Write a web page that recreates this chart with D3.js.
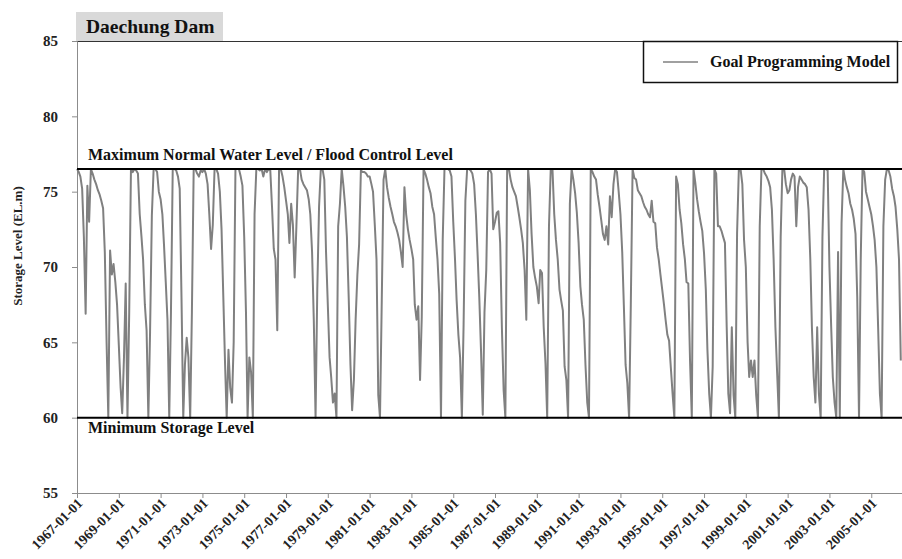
<!DOCTYPE html>
<html>
<head>
<meta charset="utf-8">
<script src="https://cdn.jsdelivr.net/npm/d3@7"></script>
<style>
  html, body { margin: 0; padding: 0; background: #fff; }
  svg { display: block; font-family: "Liberation Serif", "Times New Roman", serif; font-weight: bold; }
</style>
</head>
<body>
<div id="chart"></div>
<script>
// ---- data (monthly storage level, EL.m) ----
const startYear = 1967;

const level1967_1976 = [
  76.5, 76.3, 76, 75.2, 72, 66.9, 75.4, 73, 76.5, 76.2, 75.8, 75.5,
  75.1, 74.8, 74.4, 73.9, 71, 65, 60, 71.1, 69.5, 70.2, 69, 67.5,
  64.8, 62, 60.3, 64, 68.9, 60, 66.9, 76.5, 76.3, 76.5, 76.4, 76.2,
  73.5, 72, 70.5, 67.5, 65.8, 60, 65.7, 73.4, 76.5, 76.5, 76.3, 75,
  74.5, 73.5, 71.5, 69, 66.5, 60, 67, 76.5, 76.5, 76.4, 76, 75.2,
  68, 60, 63.5, 65.3, 64, 60, 67, 76.5, 76.5, 76.2, 76, 76.4,
  76.3, 76.5, 76.2, 75.5, 73.5, 71.2, 72.8, 76.5, 76.5, 76.2, 75, 72.5,
  68, 63.5, 60, 64.5, 62, 61, 65, 76.5, 76.5, 76.5, 76, 75.4,
  72, 67, 60, 64, 63, 60, 73.5, 76.5, 76.5, 76.4, 76.5, 76,
  76.5, 76.3, 76.5, 76.4, 74, 71.2, 70.5, 65.8, 76.5, 76.5, 76, 75.3
];

const level1977_1986 = [
  74.4, 73.5, 71.6, 74.2, 72.8, 69.3, 72.7, 76.5, 76.5, 75.8, 75.5, 75.3,
  75.1, 74.5, 73.5, 71, 66.5, 60, 68.5, 74, 76.5, 76.5, 75.8, 71,
  67.5, 64, 62.7, 61, 61.6, 60, 72.7, 74.2, 76.5, 75.4, 74, 72,
  68, 63.5, 60.5, 62.5, 66.5, 69.5, 71.5, 76.4, 76.3, 76.3, 76.2, 76,
  76, 75.5, 75, 72.8, 70.5, 61.5, 60, 67.8, 75.8, 76.5, 75.3, 74.6,
  74, 73.5, 73, 72.7, 72.3, 71.8, 71, 70, 75.3, 73.5, 72.5, 71.8,
  71.2, 70.5, 67.5, 66.5, 67.4, 62.5, 66.7, 76.5, 76.2, 75.8, 75.3, 74.9,
  74, 73.5, 72, 70.5, 68.2, 60, 71.8, 76.5, 76.5, 76.5, 76.4, 76,
  73, 70.5, 67.8, 65.5, 64, 60, 66.2, 74.4, 76.5, 76.5, 76.4, 76.2,
  75.5, 73.5, 71, 68, 64.5, 60.2, 67, 69.8, 76.3, 76.5, 76.2, 72.5
];

const level1987_1996 = [
  73, 73.6, 73.7, 71.6, 66, 61.8, 60, 76.5, 76.5, 75.8, 75.3, 75,
  74.7, 74, 73.3, 72.5, 71.6, 69.8, 66.5, 76.5, 75.1, 72.2, 70, 69.3,
  68.7, 67.6, 69.8, 69.6, 66, 63.6, 60, 72.7, 76.5, 76.5, 73.5, 71.8,
  70.5, 68.5, 67.8, 67.1, 63.4, 62.5, 60, 74.2, 76.5, 75.8, 74.9, 73.6,
  71.6, 68.7, 67.5, 66.5, 63.5, 61, 60, 76.5, 76.3, 76, 75.8, 74.8,
  74, 73.1, 72.2, 71.8, 72.7, 71.5, 74.7, 73.3, 75.5, 76.5, 76.3, 75,
  73.5, 71, 67.5, 63.5, 62.3, 60, 67.5, 76.5, 75.9, 75.8, 75.1, 74.9,
  74.7, 74.3, 74, 73.8, 73.5, 73.3, 74.4, 73, 72.9, 71.3, 70.5, 69.5,
  68.5, 67.5, 66.5, 65.5, 65.1, 63.3, 61.6, 60, 76, 75.5, 73.8, 72.9,
  71.5, 70.5, 69, 68.9, 63.8, 60, 76.5, 75.6, 74.5, 73.7, 73, 72.4
];

const level1997_2006 = [
  70.9, 68.5, 64.5, 61.6, 60, 63.4, 76.5, 76.2, 72.7, 72.7, 72.4, 72,
  71.6, 66, 61.6, 60.3, 66, 61.5, 60, 72.2, 76.5, 76.5, 75.5, 71.8,
  70, 65, 62.7, 63.8, 62.7, 63.8, 61.5, 60, 72.7, 76.5, 76.5, 76.2,
  76, 75.7, 75.3, 73.8, 70.5, 66, 63, 60, 72, 76.5, 76.5, 75.5,
  74.9, 75.1, 75.8, 76.2, 76, 72.7, 75.3, 76, 75.8, 75.6, 75.5, 75.3,
  73.8, 70.5, 66, 62.7, 61, 66, 61.6, 60, 72, 76.5, 76.5, 76.4,
  70, 66, 62.7, 61, 60, 71, 60, 72.9, 76.5, 75.8, 75.3, 74.9,
  74.2, 73.8, 73.2, 72.2, 68, 60, 70.5, 76.5, 76.3, 75, 74.5, 74,
  73.5, 72.7, 71.8, 70, 66, 61.6, 60, 72.7, 75.8, 76.5, 76.4, 76,
  75.2, 74.7, 74, 72.5, 70.5, 63.8
];

const yTicks = [55, 60, 65, 70, 75, 80, 85];
const xTickLabels = ["1967-01-01", "1969-01-01", "1971-01-01", "1973-01-01", "1975-01-01",
  "1977-01-01", "1979-01-01", "1981-01-01", "1983-01-01", "1985-01-01", "1987-01-01",
  "1989-01-01", "1991-01-01", "1993-01-01", "1995-01-01", "1997-01-01", "1999-01-01",
  "2001-01-01", "2003-01-01", "2005-01-01"];

const refLevels = [
  { value: 76.5, label: "Maximum Normal Water Level / Flood Control Level" },
  { value: 60, label: "Minimum Storage Level" }
];

const seriesName = "Goal Programming Model";
const chartTitle = "Daechung Dam";
const yTitle = "Storage Level (EL.m)";

// ---- build ----
const levels = [...level1967_1976, ...level1977_1986, ...level1987_1996, ...level1997_2006];
const data = levels.map((v, i) => ({ date: new Date(startYear, i, 1), value: v }));

const width = 902, height = 559;
const margin = { top: 41, right: 0, bottom: 66, left: 77 };

const svg = d3.select("#chart").append("svg")
  .attr("width", width)
  .attr("height", height);

const x = d3.scaleTime()
  .domain([new Date(1967, 0, 1), new Date(2006, 6, 1)])
  .range([margin.left, 902.5]);

const y = d3.scaleLinear()
  .domain([55, 85])
  .range([height - margin.bottom, margin.top]);

// title box
svg.append("rect")
  .attr("x", 76).attr("y", 12)
  .attr("width", 147).attr("height", 29)
  .attr("fill", "#d9d9d9");
svg.append("text")
  .attr("x", 86).attr("y", 33)
  .attr("font-size", 19.5)
  .attr("fill", "#111")
  .text(chartTitle);

// top border
svg.append("line")
  .attr("x1", margin.left).attr("x2", width)
  .attr("y1", margin.top + 0.5).attr("y2", margin.top + 0.5)
  .attr("stroke", "#333").attr("stroke-width", 1);

// y axis
const yAxis = svg.append("g")
  .attr("transform", `translate(${margin.left},0)`)
  .call(d3.axisLeft(y).tickValues(yTicks).tickSize(5).tickPadding(14));
yAxis.select(".domain").attr("stroke", "#8c8c8c");
yAxis.selectAll(".tick line").attr("stroke", "#8c8c8c");
yAxis.selectAll(".tick text")
  .attr("font-size", 15)
  .attr("font-family", "Liberation Serif, serif")
  .attr("font-weight", "bold")
  .attr("fill", "#222");

// x axis
const xAxis = svg.append("g")
  .attr("transform", `translate(0,${height - margin.bottom})`)
  .call(d3.axisBottom(x)
    .tickValues(xTickLabels.map(d => d3.timeParse("%Y-%m-%d")(d)))
    .tickSize(5)
    .tickFormat(d3.timeFormat("%Y-%m-%d")));
xAxis.select(".domain").attr("stroke", "#8c8c8c").attr("d", `M${margin.left},0.5H${width}`);
xAxis.selectAll(".tick line").attr("stroke", "#8c8c8c");
xAxis.selectAll(".tick text")
  .attr("font-size", 14)
  .attr("font-family", "Liberation Serif, serif")
  .attr("font-weight", "bold")
  .attr("fill", "#222")
  .attr("text-anchor", "end")
  .attr("dy", null)
  .attr("y", 0)
  .attr("transform", "translate(6,11) rotate(-45)");

// y title
svg.append("text")
  .attr("transform", `translate(22,246) rotate(-90)`)
  .attr("text-anchor", "middle")
  .attr("font-size", 13)
  .attr("fill", "#222")
  .text(yTitle);

// series line
const line = d3.line()
  .x(d => x(d.date))
  .y(d => y(d.value));

svg.append("path")
  .datum(data)
  .attr("fill", "none")
  .attr("stroke", "#808080")
  .attr("stroke-width", 2)
  .attr("stroke-linejoin", "round")
  .attr("d", line);

// reference lines
svg.selectAll(".ref")
  .data(refLevels)
  .join("line")
  .attr("class", "ref")
  .attr("x1", margin.left).attr("x2", width)
  .attr("y1", d => y(d.value)).attr("y2", d => y(d.value))
  .attr("stroke", "#000")
  .attr("stroke-width", 2);

svg.selectAll(".ref-label")
  .data(refLevels)
  .join("text")
  .attr("class", "ref-label")
  .attr("x", 88)
  .attr("y", d => d.value > 70 ? y(d.value) - 9 : y(d.value) + 15)
  .attr("font-size", 16)
  .attr("fill", "#111")
  .text(d => d.label);

// legend
const legend = svg.append("g");
legend.append("rect")
  .attr("x", 643.5).attr("y", 41.5)
  .attr("width", 254).attr("height", 41)
  .attr("fill", "#fff")
  .attr("stroke", "#111")
  .attr("stroke-width", 1.5);
legend.append("line")
  .attr("x1", 663).attr("x2", 698)
  .attr("y1", 62).attr("y2", 62)
  .attr("stroke", "#808080").attr("stroke-width", 1.5);
legend.append("text")
  .attr("x", 710).attr("y", 67)
  .attr("font-size", 16)
  .attr("fill", "#111")
  .text(seriesName);
</script>
</body>
</html>
